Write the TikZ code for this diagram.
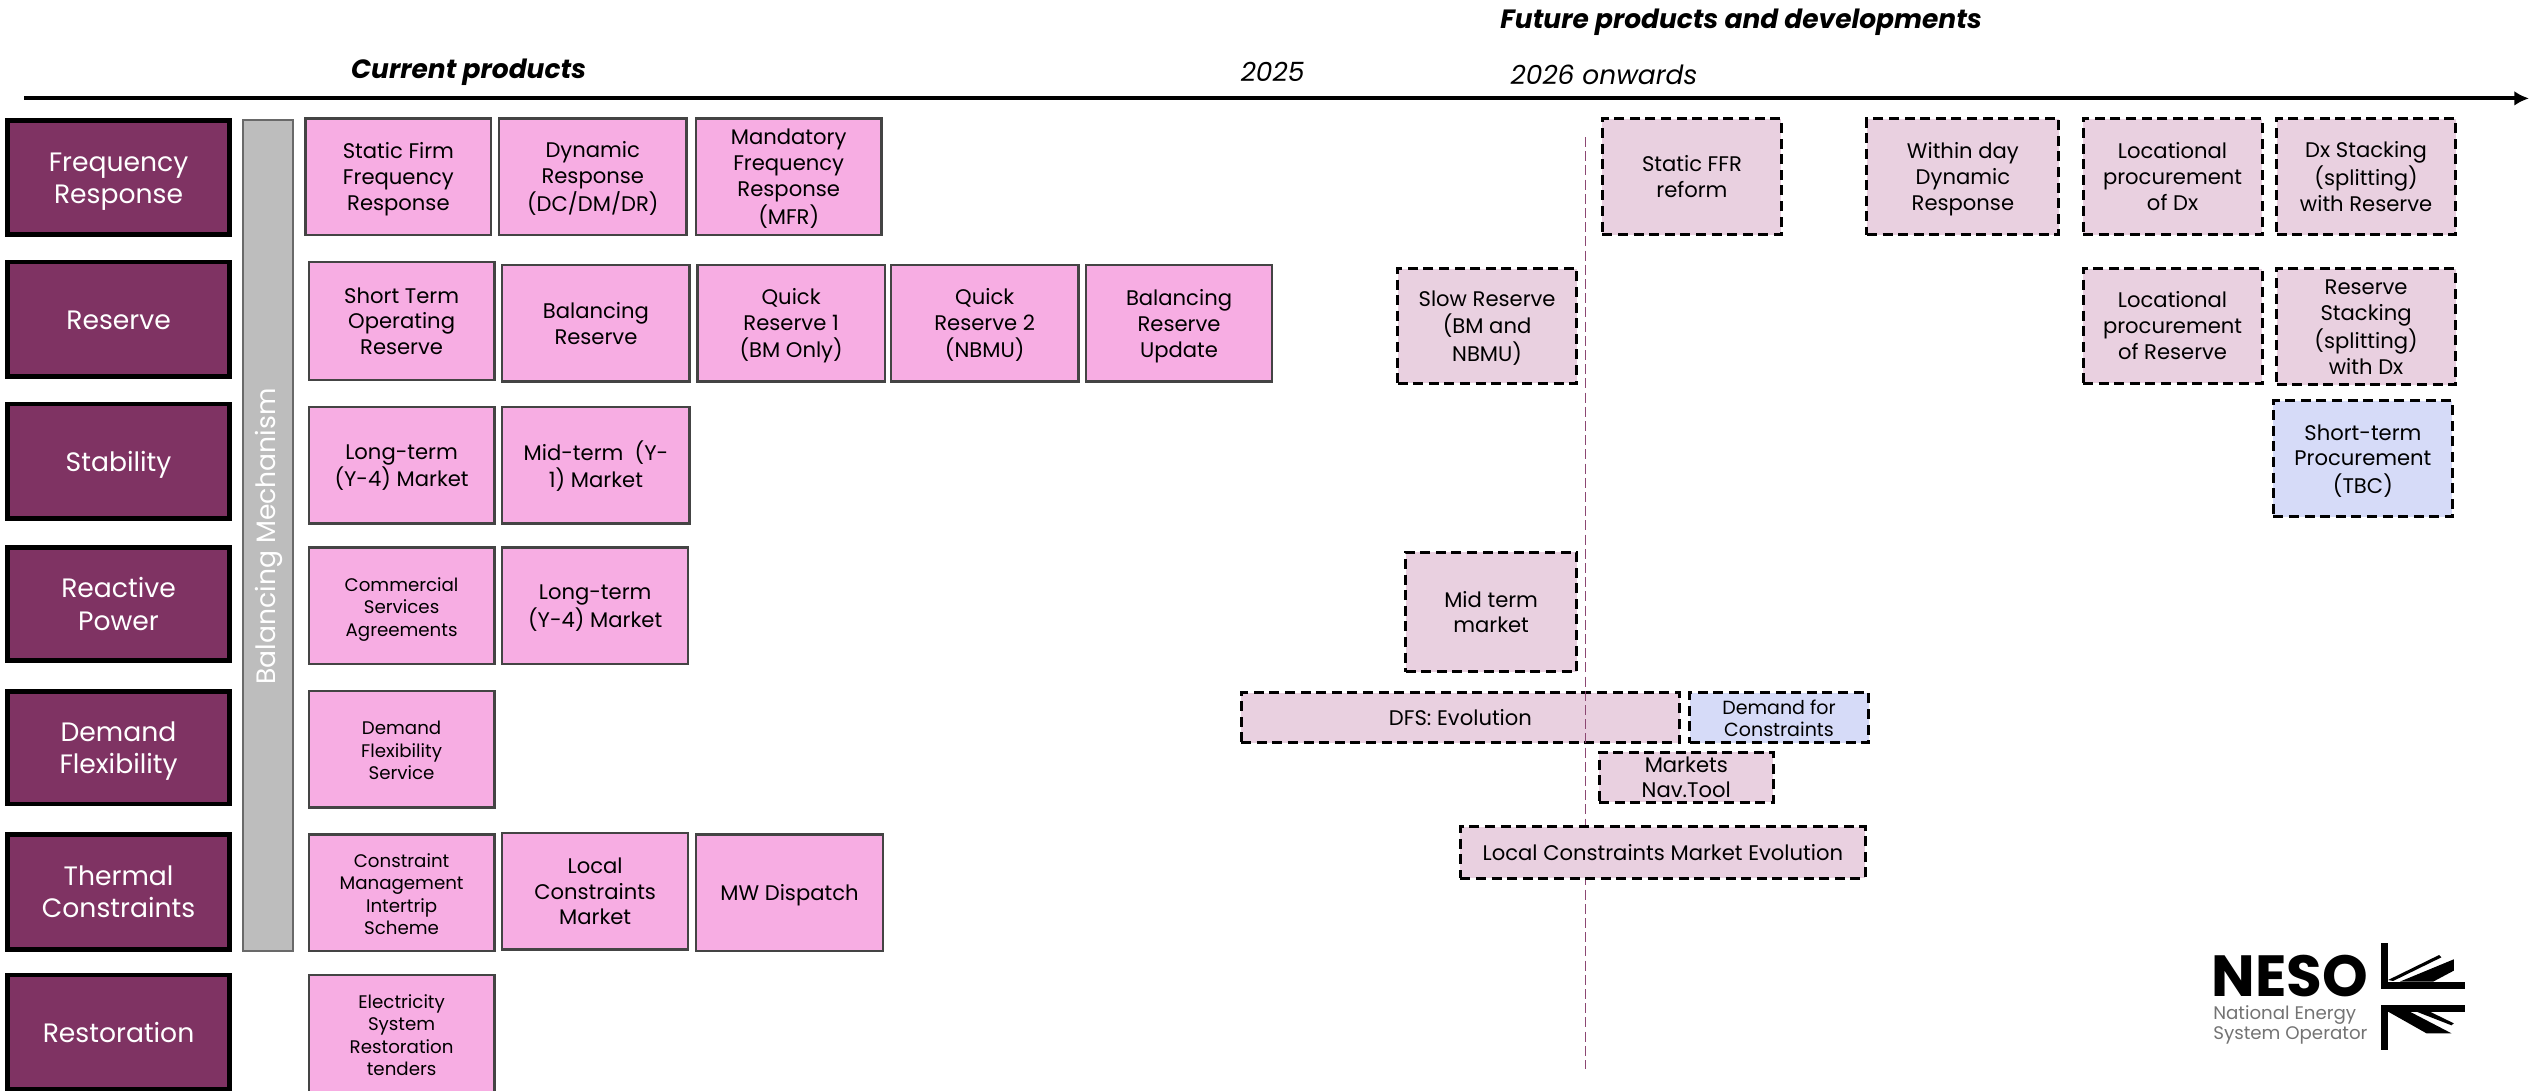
\documentclass[tikz,border=0pt]{standalone}
\usepackage{fontspec}
\setmainfont{Poppins}
\usetikzlibrary{arrows.meta}
\definecolor{plum}{HTML}{7F3363}
\definecolor{pinkfill}{HTML}{F7ADE3}
\definecolor{mauve}{HTML}{E9D0E0}
\definecolor{bluefill}{HTML}{D6DBF8}
\definecolor{edgegray}{HTML}{444444}
\definecolor{barfill}{HTML}{BDBDBD}
\newdimen\uu \uu=0.8065pt
\newcommand{\fs}[2]{\fontsize{#1\uu}{#2\uu}\selectfont}
\def\rs{-4.1pt}
\newcommand{\tb}[1]{\raisebox{\rs}[0pt][0pt]{\begin{tabular}{@{}c@{}}#1\end{tabular}}}
\def\ins{0}
\tikzset{
 basebox/.style={rectangle,inner sep=0pt,outer sep=0pt,text=black},
 cat/.style={basebox,fill=plum,draw=black,line width=2.4pt,text=white,font=\fs{16.5}{20},/utils/exec={\def\ins{1.5}\def\rs{-5.3pt}}},
 cur/.style={basebox,fill=pinkfill,draw=edgegray,line width=1.2pt,font=\fs{13.1}{16},/utils/exec={\def\ins{0.4}}},
 cursm/.style={cur,font=\fs{11.3}{14}},
 fut/.style={basebox,fill=mauve,draw=black,line width=1.5pt,dash pattern=on 5pt off 2.8pt,font=\fs{13.1}{16},/utils/exec={\def\ins{0.5}}},
 futb/.style={fut,fill=bluefill},
 head/.style={inner sep=0pt,outer sep=0pt,font=\fs{16.4}{18}\bfseries\itshape},
 yr/.style={inner sep=0pt,outer sep=0pt,font=\fs{16.4}{18}\itshape}
}
\newcommand{\bx}[7]{\node[#6,minimum width={(#4-#2-2*\ins)*0.8065pt},minimum height={(#5-#3-2*\ins)*0.8065pt}] (#1) at ({(#2+#4)/2},{(#3+#5)/2}) {\tb{#7}};}
\begin{document}
\begin{tikzpicture}[x=0.8065pt,y=-0.8065pt]
\useasboundingbox (0,0) rectangle (1568,676.4);
% timeline
\coordinate (tl) at (15,61);
\coordinate (tr) at (1568,61);
\draw[line width=1.9pt,-{Latex[length=7.3pt,width=7.3pt]}] (tl) -- (tr);
\node[head] (hcur) at (290.5,45) {Current products};
\node[head] (hfut) at (1079.5,13.5) {Future products and developments};
\node[yr] (y25) at (789,44.5) {2025};
\node[yr] (y26) at (994.5,46.5) {2026 onwards};
% categories
\bx{c1}{3}{73}{144}{147}{cat}{Frequency\\Response}
\bx{c2}{3}{161}{144}{235}{cat}{Reserve}
\bx{c3}{3}{249}{144}{323}{cat}{Stability}
\bx{c4}{3}{338}{144}{411}{cat}{Reactive\\Power}
\bx{c5}{3}{427}{144}{500}{cat}{Demand\\Flexibility}
\bx{c6}{3}{516}{144}{590}{cat}{Thermal\\Constraints}
\bx{c7}{3}{603}{144}{677}{cat}{Restoration}
% balancing mechanism
\bx{bm}{150}{74}{182}{590}{basebox,fill=barfill,draw=edgegray!80,line width=1.2pt,/utils/exec={\def\ins{0.5}}}{}
\node[rotate=90,text=white,inner sep=0pt,font=\fs{16.5}{20}] (bmt) at (166.5,332.5) {Balancing Mechanism};
% current
\bx{r1a}{189}{73}{305}{146}{cur}{Static Firm\\Frequency\\Response}
\bx{r1b}{309}{73}{426}{146}{cur}{Dynamic\\Response\\(DC/DM/DR)}
\bx{r1c}{431}{73}{547}{146}{cur}{Mandatory\\Frequency\\Response\\(MFR)}
\bx{r2a}{191}{162}{307}{236}{cur}{Short Term\\Operating\\Reserve}
\bx{r2b}{311}{164}{428}{237}{cur}{Balancing\\Reserve}
\bx{r2c}{432}{164}{549}{237}{cur}{Quick\\Reserve 1\\(BM Only)}
\bx{r2d}{552}{164}{669}{237}{cur}{Quick\\Reserve 2\\(NBMU)}
\bx{r2e}{673}{164}{789}{237}{cur}{Balancing\\Reserve\\Update}
\bx{r3a}{191}{252}{307}{325}{cur}{Long-term\\(Y-4) Market}
\bx{r3b}{311}{252}{428}{325}{cur}{Mid-term~~(Y-\\1) Market}
\bx{r4a}{191}{339}{307}{412}{cursm}{Commercial\\Services\\Agreements}
\bx{r4b}{311}{339}{427}{412}{cur}{Long-term\\(Y-4) Market}
\bx{r5a}{191}{428}{307}{501}{cursm}{Demand\\Flexibility\\Service}
\bx{r6a}{191}{517}{307}{590}{cursm}{Constraint\\Management\\Intertrip\\Scheme}
\bx{r6b}{311}{516}{427}{589}{cur}{Local\\Constraints\\Market}
\bx{r6c}{431}{517}{548}{590}{cur}{MW Dispatch}
\bx{r7a}{191}{604}{307}{678}{cursm}{Electricity\\System\\Restoration\\tenders}
% future
\bx{f1}{993}{73}{1105}{146}{fut}{Static FFR\\reform}
\bx{f2}{1157}{73}{1277}{146}{fut}{Within day\\Dynamic\\Response}
\bx{f3}{1291}{73}{1403}{146}{fut}{Locational\\procurement\\of Dx}
\bx{f4}{1411}{73}{1523}{146}{fut}{Dx Stacking\\(splitting)\\with Reserve}
\bx{f5}{866}{166}{978}{238}{fut}{Slow Reserve\\(BM and\\NBMU)}
\bx{f6}{1291}{166}{1403}{238}{fut}{Locational\\procurement\\of Reserve}
\bx{f7}{1411}{166}{1523}{239}{fut}{Reserve\\Stacking\\(splitting)\\with Dx}
\bx{f8}{1409}{248}{1521}{321}{futb}{Short-term\\Procurement\\(TBC)}
\bx{f9}{871}{342}{978}{417}{fut}{Mid term\\market}
\bx{f10}{769}{429}{1042}{461}{fut}{DFS: Evolution}
\bx{f11}{1047}{429}{1159}{461}{futb,font=\fs{11.8}{13.5}}{Demand for\\Constraints}
\bx{f12}{991}{466}{1100}{498}{fut,font=\fs{13.1}{15}}{Markets\\Nav.Tool}
% divider
\coordinate (dt) at (983,85);
\coordinate (db) at (983,663);
\draw[plum!90,line width=0.9pt,dash pattern=on 5pt off 2.1pt] (dt) -- (db);
\bx{f13}{905}{512}{1157}{545}{fut}{Local Constraints Market Evolution}
% logo
\node[inner sep=0pt,anchor=base west,font=\fs{36}{40}\bfseries] (neso) at (1371,618) {NESO};
\node[inner sep=0pt,anchor=north west,align=left,text=black!55,font=\fs{11.3}{12.4}] (nessub) at (1372,623) {National Energy\\System Operator};
\begin{scope}[shift={(1332.9,558)},x=0.16666pt,y=-0.16666pt]
\fill (695,130) rectangle (715,268);
\fill (695,245) rectangle (945,268);
\fill (715,240) -- (868,165) -- (875,172) -- (730,243) -- cycle;
\fill (750,245) -- (912,178) -- (912,212) -- (850,245) -- cycle;
\fill (695,315) rectangle (715,450);
\fill (695,315) rectangle (945,335);
\fill (715,335) -- (780,335) -- (905,400) -- (830,400) -- cycle;
\fill (800,335) -- (840,335) -- (912,370) -- (905,376) -- cycle;
\end{scope}
\end{tikzpicture}
\end{document}
